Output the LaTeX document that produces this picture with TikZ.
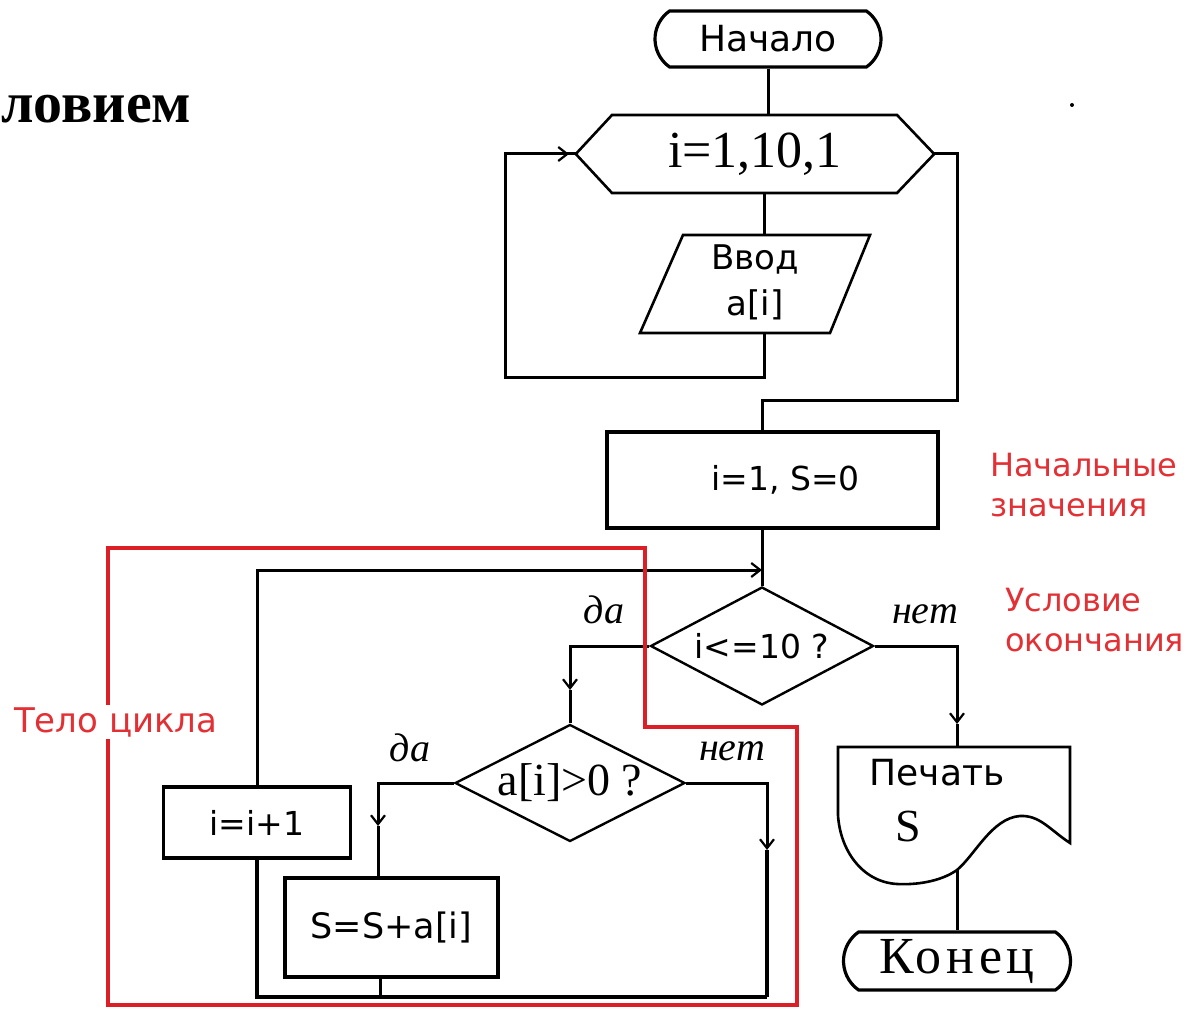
\documentclass[tikz,border=0pt]{standalone}
\usepackage{fontspec}
\setmainfont{Liberation Serif}
\newfontfamily\dv{DejaVu Sans}
\newfontfamily\wideserif[LetterSpace=9]{Liberation Serif}
\usetikzlibrary{shapes.geometric,shapes.misc,arrows.meta,calc}
\definecolor{frame}{RGB}{220,30,38}
\definecolor{note}{RGB}{226,48,52}
\begin{document}
\begin{tikzpicture}[x=1pt,y=-1pt,
  ln/.style={line width=3pt, draw=black},
  shp/.style={line width=2.6pt, draw=black, line join=miter},
  box/.style={draw, line width=3.2pt, rectangle, inner sep=0pt},
  ghost/.style={inner sep=0pt, draw=none},
  dec/.style={draw, diamond, line width=2.4pt, inner sep=0pt},
  term/.style={draw, rounded rectangle, rounded rectangle arc length=110, line width=3.2pt, inner sep=0pt},
  arr/.style={-{Straight Barb[length=9pt,width=14pt,line width=2.2pt]}},
  sans/.style={font=\dv\fontsize{33}{38}\selectfont},
  sansbig/.style={font=\dv\fontsize{36}{44}\selectfont},
  lab/.style={font=\itshape\fontsize{40}{44}\selectfont, inner sep=0pt},
  notetxt/.style={text=note, font=\dv\fontsize{32}{40}\selectfont, align=left, inner sep=2pt}
]
\useasboundingbox (0,0) rectangle (1203,1011);

% title fragment
\node[anchor=base west, font=\fontsize{58}{64}\selectfont\bfseries, inner sep=0pt] (title) at (1,123) {ловием};
\fill (1072,105) circle (2pt);

% nodes
\node[term, minimum width=226pt, minimum height=56pt, sansbig] (start) at (768,39) {Начало};

\node[ghost, minimum width=358pt, minimum height=78pt, font=\fontsize{52}{56}\selectfont] (loop) at (755,154) {i=1,10,1};
\draw[shp] (loop.west) -- (612,115) -- (897,115) -- (loop.east) -- (897,193) -- (612,193) -- cycle;

\node[ghost, minimum width=230pt, minimum height=98pt] (input) at (764,284) {};
\draw[shp] (683,235) -- (870,235) -- (830,333) -- (640,333) -- cycle;
\node[ghost, align=center, font=\dv\fontsize{34}{46}\selectfont] (inputtxt) at (755,282) {Ввод\\a[i]};

\node[box, minimum width=331pt, minimum height=96pt, sans] (init) at (772.5,480) {\hspace*{26pt}i=1, S=0};

\node[dec, aspect=1.89, minimum width=223pt, minimum height=118pt, sans] (cond) at (762,646) {i<=10 ?};

\node[dec, aspect=1.95, minimum width=230pt, minimum height=117pt, font=\fontsize{46}{50}\selectfont] (test) at (570,783) {a[i]>0 ?};

\node[box, minimum width=213pt, minimum height=99pt, font=\dv\fontsize{35}{40}\selectfont] (sum) at (391.5,927.5) {S=S+a[i]};

\node[box, minimum width=187pt, minimum height=71pt, sans] (inc) at (257,822.5) {i=i+1};

\node[ghost, minimum width=232pt, minimum height=137pt] (print) at (957,815) {};
\draw[shp] (838,747) -- (1070,747) -- (1070,843)
  .. controls (1050,830) and (1040,815) .. (1020,816)
  .. controls (992,818) and (975,855) .. (957,870)
  .. controls (940,882) and (915,885) .. (897,884)
  .. controls (862,882) and (840,850) .. (838,815) -- cycle;
\node[sansbig, inner sep=0pt] (printtxt) at (937,773) {Печать};
\node[font=\fontsize{46}{50}\selectfont, inner sep=0pt] (printS) at (908,826) {S};
\coordinate (pbot) at (957,870);

\node[term, minimum width=227pt, minimum height=58pt, font=\wideserif\fontsize{52}{58}\selectfont] (end) at (957,961) {Конец};

% connectors
\draw[ln] (start.south) -- (start.south |- loop.north);
\draw[ln] (input.north |- loop.south) -- (input.north);

\coordinate (L1) at (505,377);
\coordinate (L2) at (505,154);
\coordinate (L3) at (569,154);
\draw[ln] (input.south) |- (L1) -- (L2) -- (loop.west);
\draw[ln,arr] (L2) -- (L3);

\coordinate (R1) at (957,400);
\coordinate (X1) at ($(init.north)+(-10,0)$);
\draw[ln] (loop.east) -| (R1) -| (X1);

\coordinate (J) at (762,570);
\draw[ln] (init.south -| cond.north) -- (cond.north);
\draw[ln,arr] (inc.north) |- (J);

\coordinate (A7) at (570,690);
\draw[ln,arr] (cond.west) -| (A7);
\draw[ln] (A7) -- (test.north);

\coordinate (A8) at (957,724);
\draw[ln,arr] (cond.east) -| (A8);
\draw[ln] (A8) -- (print.north);

\coordinate (S1) at ($(sum.north)+(-13.5,0)$);
\coordinate (A9) at (378,826);
\draw[ln,arr] (test.west) -| (A9);
\draw[ln] (A9) -- (S1);

\coordinate (A10) at (767,850);
\coordinate (B1) at (767,997);
\draw[ln,arr] (test.east) -| (A10);
\draw[ln, line width=3.8pt] (A10) -- (B1);

\coordinate (S2) at ($(sum.south)+(-11.5,0)$);
\coordinate (B2) at (380,997);
\draw[ln] (S2) -- (B2);
\draw[ln, line width=3.6pt] (B1) -| (inc.south);

\draw[ln] (pbot) -- (end.north);

% branch labels
\node[lab] (da1) at (604,610) {да};
\node[lab] (net1) at (925,614) {нет};
\node[lab] (da2) at (410,748) {да};
\node[lab] (net2) at (732,751) {нет};

% red frame and notes
\draw[frame, line width=4pt] (108,548) -- (645,548) -- (645,727) -- (797,727) -- (797,1005) -- (108,1005) -- cycle;
\node[notetxt, anchor=west] (n1) at (988,485) {Начальные\\значения};
\node[notetxt, anchor=west] (n2) at (1003,620) {Условие\\окончания};
\node[notetxt, anchor=west, fill=white, font=\dv\fontsize{34}{40}\selectfont] (n3) at (12,722) {Тело цикла};
\end{tikzpicture}
\end{document}
